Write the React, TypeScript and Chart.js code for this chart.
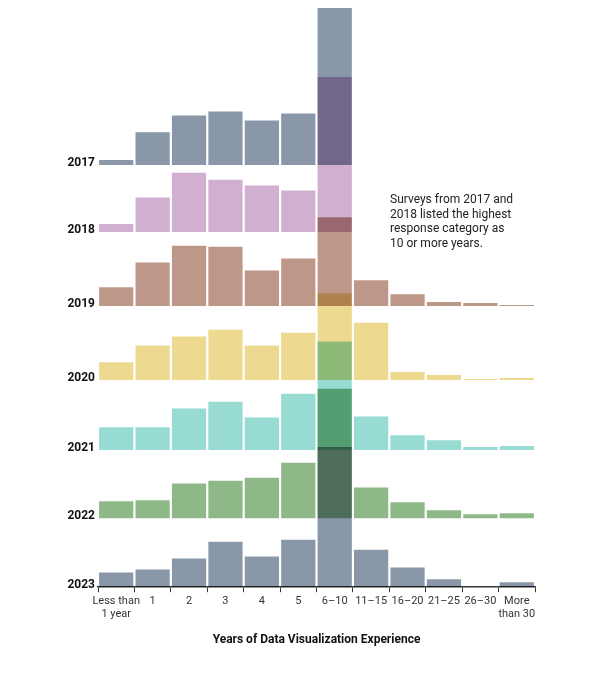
import React, { useEffect, useRef } from "react";
import { Chart, registerables } from "chart.js";
Chart.register(...registerables);

const categories: (string | string[])[] = [["Less than", "1 year"], "1", "2", "3", "4", "5", "6–10", "11–15", "16–20", "21–25", "26–30", ["More", "than 30"]];
const years = ["2017", "2018", "2019", "2020", "2021", "2022", "2023"];
const offsets = [428, 360, 285, 210, 139, 70, 0];
const colors = ["#8a97a8", "#d1afd0", "#bd9888", "#eed990", "#98dbd3", "#8fb888", "#8a97a8"];
const v2017 = [5, 33, 50, 54, 45, 52, 159, null, null, null, null, null];
const v2018 = [8, 35, 60, 53, 47, 42, 157, null, null, null, null, null];
const v2019 = [19, 44, 61, 60, 36, 48, 90, 26, 12, 4, 3, 1];
const v2020 = [18, 35, 44, 51, 35, 48, 88, 58, 8, 5, 1, 2];
const v2021 = [23, 23, 42, 49, 33, 57, 110, 34, 15, 10, 3, 4];
const v2022 = [17, 18, 35, 38, 41, 56, 131, 31, 16, 8, 4, 5];
const v2023 = [15, 18, 29, 46, 31, 48, 142, 38, 20, 8, 0, 5];
const series = [v2017, v2018, v2019, v2020, v2021, v2022, v2023];
const note = ["Surveys from 2017 and", "2018 listed the highest", "response category as", "10 or more years."];

export default function App() {
  const ref = useRef<HTMLCanvasElement>(null);
  useEffect(() => {
    const overlay = {
      id: "overlay",
      beforeDatasetsDraw(c: any) { c.ctx.save(); c.ctx.globalCompositeOperation = "multiply"; },
      afterDatasetsDraw(c: any) {
        const ctx = c.ctx;
        ctx.restore();
        ctx.save();
        const y = c.scales.y;
        ctx.fillStyle = "#111";
        ctx.font = "bold 12px Roboto";
        ctx.textAlign = "right";
        ctx.textBaseline = "alphabetic";
        years.forEach((yr, i) => ctx.fillText(yr, c.chartArea.left - 3, y.getPixelForValue(offsets[i]) + 1));
        ctx.font = "12px Roboto";
        ctx.textAlign = "left";
        ctx.fillStyle = "#222";
        note.forEach((t, i) => ctx.fillText(t, 390, 203 + i * 14.5));
        ctx.restore();
      },
    };
    const chart = new Chart(ref.current!, {
      type: "bar",
      data: {
        labels: categories as any,
        datasets: series.map((vals, i) => ({
          label: years[i],
          data: vals.map((v) => (v === null ? null : [offsets[i], offsets[i] + v])) as any,
          backgroundColor: colors[i],
          borderWidth: 0,
          grouped: false,
          categoryPercentage: 1,
          barPercentage: 0.94,
        })),
      },
      options: {
        animation: false,
        responsive: false,
        layout: { padding: { left: 98, right: 65, top: 8, bottom: 22 } },
        plugins: { legend: { display: false }, tooltip: { enabled: false } },
        scales: {
          y: { display: false, min: 0, max: 587 },
          x: {
            grid: { drawOnChartArea: false, drawTicks: true, tickLength: 5, color: "#333" },
            border: { color: "#333", width: 1.5 },
            ticks: { color: "#333", font: { family: "Roboto", size: 11 }, maxRotation: 0, autoSkip: false, padding: 2 },
            title: { display: true, text: "Years of Data Visualization Experience", color: "#111", font: { family: "Roboto", size: 12, weight: "bold" }, padding: { top: 10 } },
          },
        },
      },
      plugins: [overlay],
    });
    return () => chart.destroy();
  }, []);
  return (
    <div style={{ position: "absolute", left: 0, top: 0, width: 600, height: 673, background: "#fff" }}>
      <canvas ref={ref} width={600} height={673} />
    </div>
  );
}
